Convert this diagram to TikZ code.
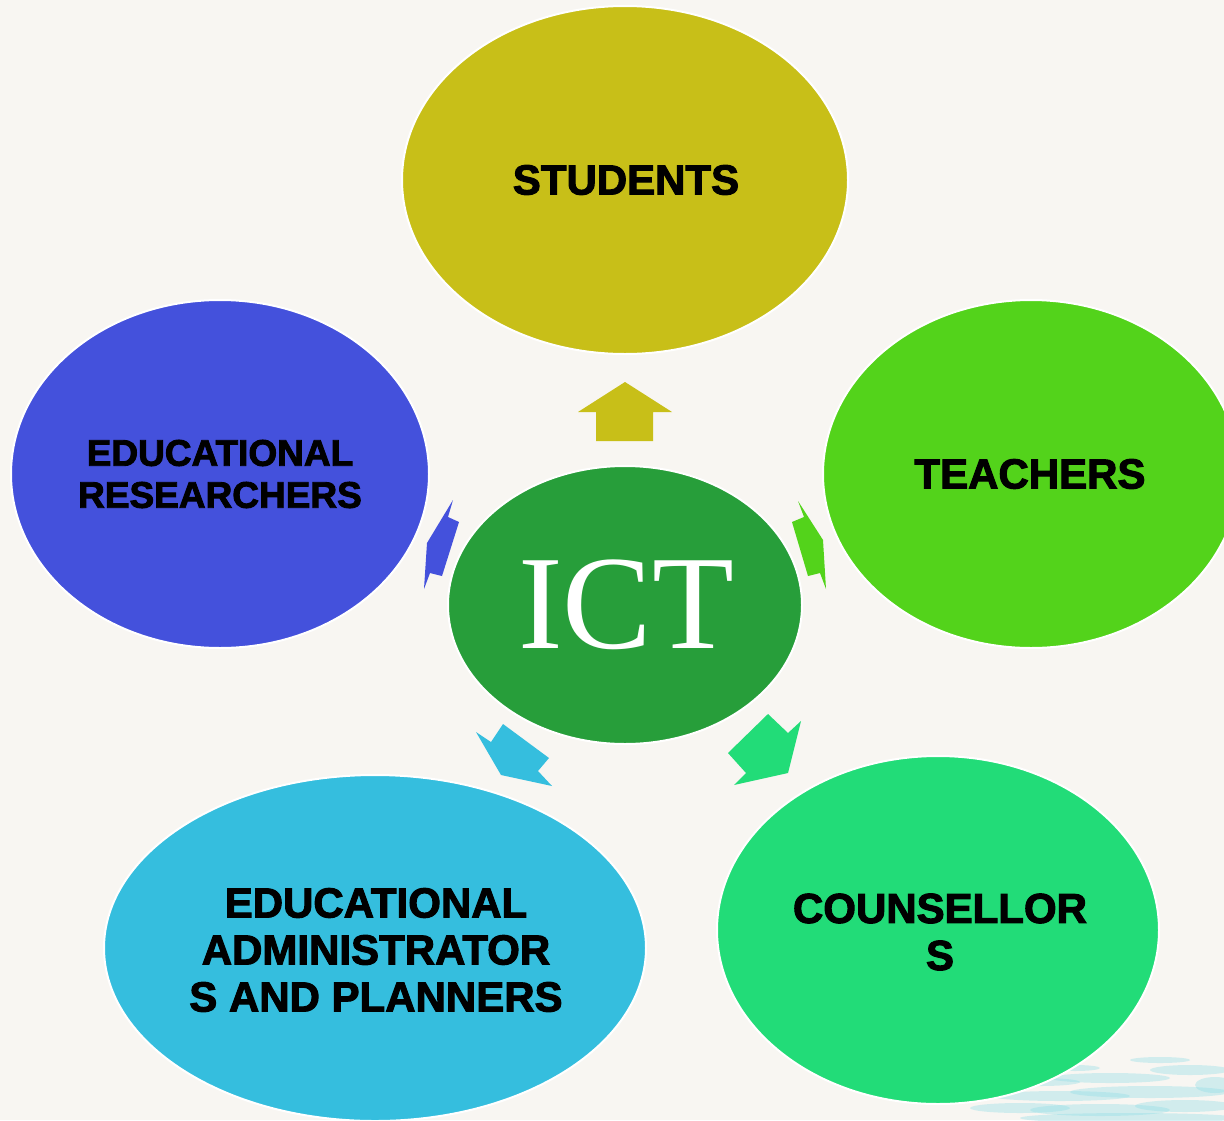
\documentclass[tikz,border=0pt]{standalone}
\usepackage{fontspec}
\newfontfamily\lbl{Liberation Sans}[BoldFeatures={FakeBold=2.4}]
\newfontfamily\ictfont{Liberation Serif}
\usetikzlibrary{shapes.geometric}
\definecolor{bgcol}{HTML}{F8F6F2}
\definecolor{cstu}{HTML}{C8BF18}
\definecolor{ctea}{HTML}{53D31B}
\definecolor{cres}{HTML}{4451DC}
\definecolor{cict}{HTML}{279E3A}
\definecolor{cadm}{HTML}{35BEDE}
\definecolor{ccou}{HTML}{22DC78}
\definecolor{ctex}{HTML}{8ADCE6}
\begin{document}
\begin{tikzpicture}[x=1pt,y=-1pt,
  ell/.style={ellipse, draw=white, line width=2pt, inner sep=0pt, outer sep=0pt},
  lab/.style={text=black, align=center, inner sep=0pt, font=\lbl\bfseries\fontsize{42}{47}\selectfont},
  tex/.style={fill=ctex, opacity=0.35}]
\useasboundingbox (0,0) rectangle (1224,1120);
\begin{scope}
\clip (0,0) rectangle (1224,1120);
\fill[bgcol] (0,0) rectangle (1224,1120);
% texture bottom right
\foreach \xx/\yy/\ww/\hh in {1040/1082/40/4, 1110/1078/60/5, 1190/1070/40/5, 1060/1096/70/5, 1150/1092/80/6,
  1020/1108/50/5, 1100/1110/70/6, 1185/1106/50/6, 1130/1118/110/5, 1215/1085/20/8, 1075/1068/25/3, 1160/1060/30/3}
  {\fill[tex] (\xx,\yy) ellipse ({\ww*1pt} and {\hh*1pt});}
% ellipses
\node[ell, fill=cstu, minimum width=446pt, minimum height=348pt] (stu) at (625,180) {};
\node[ell, fill=ctea, minimum width=416pt, minimum height=348pt] (tea) at (1031,474) {};
\node[ell, fill=cres, minimum width=418pt, minimum height=348pt] (res) at (220,474) {};
\node[ell, fill=cict, minimum width=354pt, minimum height=278pt] (ict) at (625,605) {};
\node[ell, fill=cadm, minimum width=542pt, minimum height=346pt] (adm) at (375,948) {};
\node[ell, fill=ccou, minimum width=442pt, minimum height=348pt] (cou) at (938,930) {};
% block arrows
\fill[cstu] (625,382) -- (672,412) -- (653,412) -- (653,441) -- (596,441) -- (596,412) -- (578,412) -- cycle;
\fill[cres] (427,543) -- (453,500) -- (448,517) -- (459,522) -- (442,576) -- (430,573) -- (424,589) -- cycle;
\fill[ctea] (823,540) -- (798,501) -- (804,517) -- (792,522) -- (808,576) -- (820,573) -- (826,589) -- cycle;
\fill[cadm] (501,775) -- (476,732) -- (491,742) -- (503,724) -- (549,758) -- (538,771) -- (552,786) -- cycle;
\fill[ccou] (788,773) -- (801,721) -- (788,733) -- (768,714) -- (728,753) -- (746,773) -- (734,785) -- cycle;
% labels
\node[lab] (stut) at (626,180) {STUDENTS};
\node[lab] (teat) at (1030,474) {TEACHERS};
\node[lab, font=\lbl\bfseries\fontsize{37}{42}\selectfont] (rest) at (220,474) {EDUCATIONAL\\RESEARCHERS};
\node[lab] (admt) at (376,950) {EDUCATIONAL\\ADMINISTRATOR\\S AND PLANNERS};
\node[lab] (cout) at (940,932) {COUNSELLOR\\S};
\node[text=white, inner sep=0pt, anchor=base, font=\ictfont\fontsize{134}{134}\selectfont] (ictt) at (626,648) {ICT};
\end{scope}
\end{tikzpicture}
\end{document}
